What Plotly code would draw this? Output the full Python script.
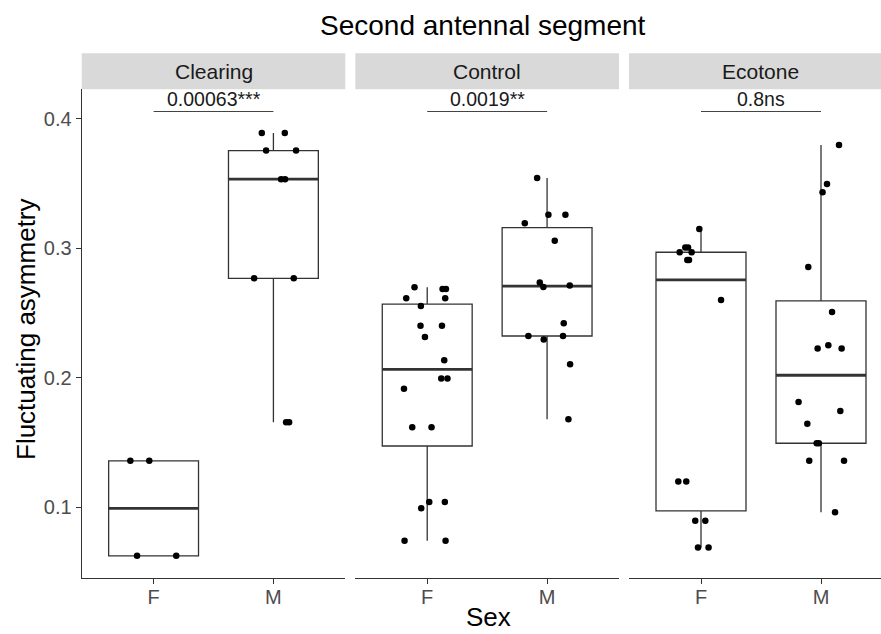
import numpy as np
import plotly.graph_objects as go

# ---------------- data ----------------
habitats = ["Clearing", "Control", "Ecotone"]
sexes = ["F", "M"]

clearing_F = [0.1357, 0.1357, 0.0623, 0.0623]
clearing_M = [0.389, 0.389, 0.3755, 0.3755, 0.3534, 0.3534, 0.2768, 0.2768, 0.1655, 0.1655]

control_F = [0.2698, 0.2686, 0.2686, 0.2613, 0.2613, 0.2554, 0.2402, 0.2402, 0.2314, 0.2134,
             0.1993, 0.1993, 0.1915, 0.1616, 0.1616, 0.1039, 0.1039, 0.0991, 0.0739, 0.0739]
control_M = [0.3544, 0.326, 0.326, 0.3194, 0.3059, 0.2735, 0.2701, 0.2713, 0.2420, 0.2322,
             0.2322, 0.2294, 0.2103, 0.1678]

ecotone_F = [0.3149, 0.3005, 0.3005, 0.2969, 0.2969, 0.2910, 0.2910, 0.2600, 0.1198, 0.1198,
             0.0894, 0.0894, 0.0688, 0.0688]
ecotone_M = [0.3799, 0.3497, 0.3433, 0.2855, 0.2507, 0.2226, 0.2226, 0.2250, 0.1811, 0.1742,
             0.1644, 0.1493, 0.1493, 0.1357, 0.1357, 0.0959]

p_labels = ["0.00063***", "0.0019**", "0.8ns"]

# horizontal jitter offsets (category units)
jit_clearing_F = [-0.194, -0.036, -0.138, 0.189]
jit_clearing_M = [-0.097, 0.095, -0.061, 0.189, 0.064, 0.097, -0.161, 0.17, 0.106, 0.131]
jit_control_F = [-0.106, 0.128, 0.156, -0.175, 0.150, -0.053, -0.056, 0.123, -0.019, 0.142,
                 0.117, 0.169, -0.194, -0.125, 0.036, 0.017, 0.147, -0.050, -0.189, 0.153]
jit_control_M = [-0.083, 0.011, 0.153, -0.186, 0.064, -0.061, -0.031, 0.189, 0.139, -0.156,
                 0.133, -0.028, 0.192, 0.178]
jit_ecotone_F = [-0.014, -0.131, -0.108, -0.178, -0.078, -0.114, -0.100, 0.167, -0.189, -0.123,
                 -0.048, 0.036, -0.025, 0.063]
jit_ecotone_M = [0.150, 0.050, 0.013, -0.106, 0.092, -0.028, 0.172, 0.061, -0.187, 0.161,
                 -0.114, -0.036, -0.018, -0.098, 0.192, 0.117]

groups = {
    ("Clearing", "F"): (clearing_F, jit_clearing_F),
    ("Clearing", "M"): (clearing_M, jit_clearing_M),
    ("Control", "F"): (control_F, jit_control_F),
    ("Control", "M"): (control_M, jit_control_M),
    ("Ecotone", "F"): (ecotone_F, jit_ecotone_F),
    ("Ecotone", "M"): (ecotone_M, jit_ecotone_M),
}

# ---------------- layout constants ----------------
W, H = 881, 634
FONT = "Liberation Sans, Arial, Helvetica, sans-serif"
LINE = "#333333"
BOXW = 0.75
SIG_Y = 0.4057

x_domains = [[81.7 / W, 345.3 / W], [355.3 / W, 619.0 / W], [629.0 / W, 1.0]]
x_ranges = [[0.4, 2.6], [0.4, 2.6], [0.4, 2.5]]
y_domain = [1 - 578.0 / H, 1 - 89.3 / H]
strip_y = [1 - 89.3 / H, 1 - 53.3 / H]

all_vals = [v for (vals, _) in groups.values() for v in vals] + [SIG_Y]
lo, hi = min(all_vals), max(all_vals)
pad = 0.05 * (hi - lo)
y_range = [lo - pad, hi + pad]


def box_stats(v):
    v = np.asarray(v)
    q1, med, q3 = np.percentile(v, [25, 50, 75])
    iqr = q3 - q1
    lf = v[v >= q1 - 1.5 * iqr].min()
    uf = v[v <= q3 + 1.5 * iqr].max()
    return q1, med, q3, lf, uf


fig = go.Figure()
shapes = []
annotations = []

for i, hab in enumerate(habitats):
    xa = "x" if i == 0 else f"x{i + 1}"
    for j, sx in enumerate(sexes):
        pos = j + 1
        vals, jit = groups[(hab, sx)]
        q1, med, q3, lf, uf = box_stats(vals)
        fig.add_trace(go.Box(
            x=[pos], q1=[q1], median=[med], q3=[q3], lowerfence=[lf], upperfence=[uf],
            width=BOXW, whiskerwidth=0, fillcolor="rgba(0,0,0,0)",
            line=dict(color=LINE, width=1.3), xaxis=xa, yaxis="y",
            hoverinfo="skip", showlegend=False,
        ))
        # thicker median line (ggplot style)
        fig.add_trace(go.Scatter(
            x=[pos - BOXW / 2, pos + BOXW / 2], y=[med, med], mode="lines",
            line=dict(color=LINE, width=2.8), xaxis=xa, yaxis="y",
            hoverinfo="skip", showlegend=False,
        ))
        fig.add_trace(go.Scatter(
            x=[pos + o for o in jit], y=vals, mode="markers",
            marker=dict(color="black", size=6.5), xaxis=xa, yaxis="y",
            hoverinfo="skip", showlegend=False,
        ))
    # significance bar
    fig.add_trace(go.Scatter(
        x=[1, 2], y=[SIG_Y, SIG_Y], mode="lines",
        line=dict(color="#444444", width=1.1), xaxis=xa, yaxis="y",
        hoverinfo="skip", showlegend=False,
    ))
    annotations.append(dict(
        x=1.5, y=SIG_Y, xref=xa, yref="y", text=p_labels[i], showarrow=False,
        yanchor="bottom", xanchor="center", yshift=0,
        font=dict(family=FONT, size=19.5, color="#1A1A1A"),
    ))
    # strip
    shapes.append(dict(
        type="rect", xref="paper", yref="paper",
        x0=x_domains[i][0], x1=x_domains[i][1], y0=strip_y[0], y1=strip_y[1],
        fillcolor="#D9D9D9", line=dict(width=0), layer="below",
    ))
    annotations.append(dict(
        x=(x_domains[i][0] + (x_domains[i][0] + 263.6 / W)) / 2, y=(strip_y[0] + strip_y[1]) / 2,
        xref="paper", yref="paper", text=hab, showarrow=False,
        xanchor="center", yanchor="middle",
        font=dict(family=FONT, size=21, color="#1A1A1A"),
    ))

# titles
annotations.append(dict(
    x=482.5 / W, y=1 - 26.0 / H, xref="paper", yref="paper",
    text="Second antennal segment", showarrow=False, xanchor="center", yanchor="middle",
    font=dict(family=FONT, size=28, color="black"),
))
annotations.append(dict(
    x=488.7 / W, y=0, xref="paper", yref="paper",
    text="Sex", showarrow=False, xanchor="center", yanchor="bottom",
    font=dict(family=FONT, size=26, color="black"),
))
annotations.append(dict(
    x=26.0 / W, y=1 - 329.0 / H, xref="paper", yref="paper", textangle=-90,
    text="Fluctuating asymmetry", showarrow=False, xanchor="center", yanchor="middle",
    font=dict(family=FONT, size=26, color="black"),
))

xaxis_common = dict(
    tickmode="array", tickvals=[1, 2], ticktext=sexes,
    showline=True, linecolor=LINE, linewidth=1.2,
    ticks="outside", ticklen=5, tickwidth=1.1, tickcolor=LINE,
    tickfont=dict(family=FONT, size=20, color="#4D4D4D"),
    ticklabelstandoff=-4,
    showgrid=False, zeroline=False, fixedrange=True, anchor="y",
)

layout = dict(
    width=W, height=H,
    margin=dict(l=0, r=0, t=0, b=0),
    paper_bgcolor="white", plot_bgcolor="white",
    showlegend=False, hovermode=False,
    shapes=shapes, annotations=annotations,
    yaxis=dict(
        domain=y_domain, range=y_range, anchor="x",
        tickmode="array", tickvals=[0.1, 0.2, 0.3, 0.4], ticktext=["0.1", "0.2", "0.3", "0.4"],
        showline=True, linecolor=LINE, linewidth=1.2,
        ticks="outside", ticklen=5, tickwidth=1.1, tickcolor=LINE,
        tickfont=dict(family=FONT, size=20, color="#4D4D4D"),
        showgrid=False, zeroline=False, fixedrange=True,
    ),
)
for i in range(3):
    key = "xaxis" if i == 0 else f"xaxis{i + 1}"
    layout[key] = dict(xaxis_common, domain=x_domains[i], range=x_ranges[i])

fig.update_layout(**layout)
fig.write_html("out.html")
